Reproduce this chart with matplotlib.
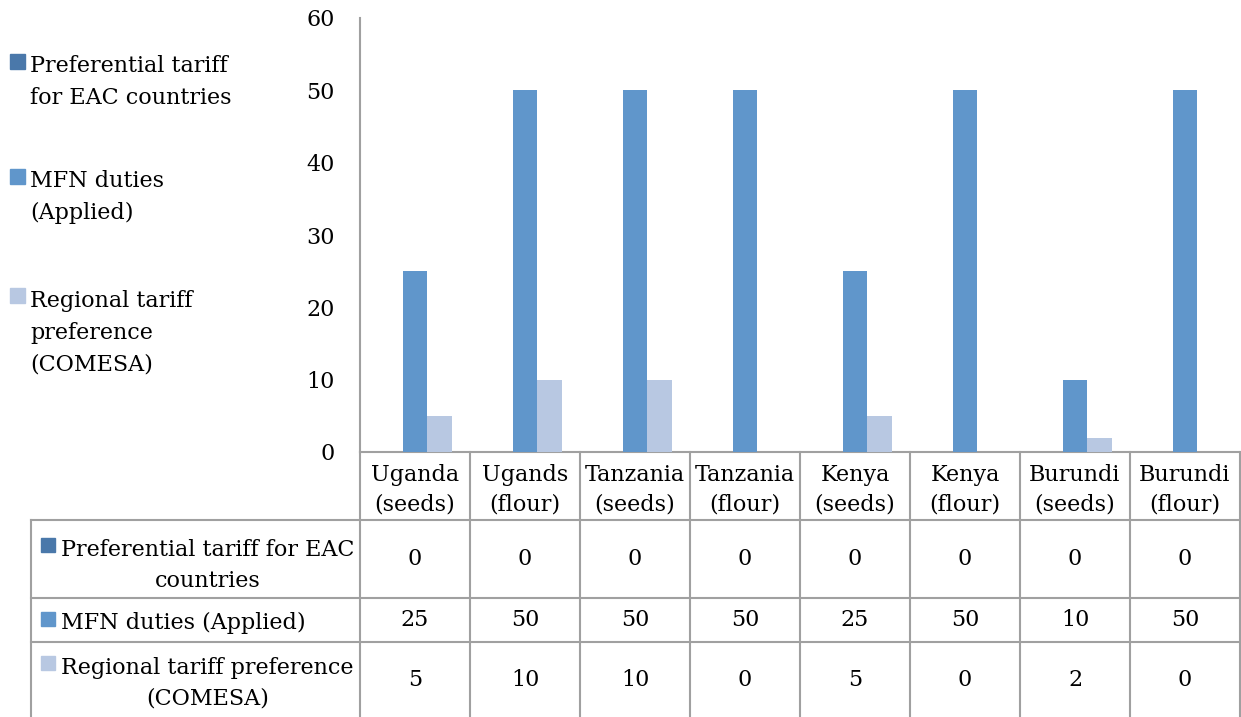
import matplotlib.pyplot as plt
from matplotlib.patches import Rectangle
import numpy as np

# data
categories = ["Uganda\n(seeds)", "Ugands\n(flour)", "Tanzania\n(seeds)", "Tanzania\n(flour)",
              "Kenya\n(seeds)", "Kenya\n(flour)", "Burundi\n(seeds)", "Burundi\n(flour)"]
legend_labels = ["Preferential tariff\nfor EAC countries", "MFN duties\n(Applied)",
                 "Regional tariff\npreference\n(COMESA)"]
table_labels = ["Preferential tariff for EAC\ncountries", "MFN duties (Applied)",
                "Regional tariff preference\n(COMESA)"]
preferential = [0, 0, 0, 0, 0, 0, 0, 0]
mfn = [25, 50, 50, 50, 25, 50, 10, 50]
regional = [5, 10, 10, 0, 5, 0, 2, 0]
values = [preferential, mfn, regional]
colors = ["#4a78aa", "#6096cb", "#b8c8e2"]

W, H = 1241, 717
plt.rcParams["font.family"] = ["DejaVu Serif"]
fs = 16
grid_c = "#a0a0a0"
unit = 20.7  # line pitch per unit linespacing at fs, in px

fig = plt.figure(figsize=(W / 100, H / 100), dpi=100)

# overlay in pixel coords for table and legend
ov = fig.add_axes([0, 0, 1, 1], zorder=0)
ov.set_xlim(0, W)
ov.set_ylim(H, 0)
ov.axis("off")


def block(xp, first_base, txt, pitch, **kw):
    # va="baseline" pins the last line, so shift down by the extra lines
    nl = txt.count("\n")
    ov.text(xp, first_base + nl * pitch, txt, fontsize=fs, va="baseline",
            linespacing=pitch / unit, **kw)


px0, px1, py_top, py_bot = 360, 1240, 18, 452
ax = fig.add_axes([px0 / W, 1 - py_bot / H, (px1 - px0) / W, (py_bot - py_top) / H], zorder=1)
ax.patch.set_alpha(0)

n = len(categories)
x = np.arange(n)
bw = 1 / 4.5
for k, (vals, c) in enumerate(zip(values, colors)):
    ax.bar(x + (k - 1) * bw, vals, width=bw, color=c, zorder=2)

ax.set_xlim(-0.5, n - 0.5)
ax.set_ylim(0, 60)
ax.set_yticks(range(0, 61, 10))
ax.tick_params(axis="y", length=0, pad=18, labelsize=fs)
ax.set_xticks([])
for s in ["top", "right", "bottom"]:
    ax.spines[s].set_visible(False)
ax.spines["left"].set_color(grid_c)
ax.spines["left"].set_linewidth(1.5)

# legend on the left (first-line baselines)
leg_base = [71, 186, 305]
for lab, c, y in zip(legend_labels, colors, leg_base):
    ov.add_patch(Rectangle((10, y - 17), 15, 15, color=c))
    block(30, y, lab, 33, ha="left")

# data table
colw = (px1 - px0) / n
tab_left = 31
rows = [452, 520, 598, 642, 717]
ov.plot([px0, px1], [rows[0]] * 2, color=grid_c, lw=1.5)
for r in rows[1:4]:
    ov.plot([tab_left, px1], [r, r], color=grid_c, lw=1.5)
ov.plot([tab_left, tab_left], [rows[1], rows[4]], color=grid_c, lw=1.5)
for k in range(n + 1):
    xx = px0 + k * colw
    ov.plot([xx, xx], [rows[0], rows[4]], color=grid_c, lw=1.5)

for i, cat in enumerate(categories):
    cx = px0 + (i + 0.5) * colw
    block(cx, 481, cat, 30, ha="center")
    for j in range(3):
        ov.text(cx, (rows[j + 1] + rows[j + 2]) / 2, str(values[j][i]), fontsize=fs,
                ha="center", va="center")

row_base = [555, 629, 673]
for lab, c, y in zip(table_labels, colors, row_base):
    block(61, y, lab, 32, ha="left", multialignment="center")
    ov.add_patch(Rectangle((41, y - 17), 14, 14, color=c))

fig.savefig("out.png", dpi=100)
